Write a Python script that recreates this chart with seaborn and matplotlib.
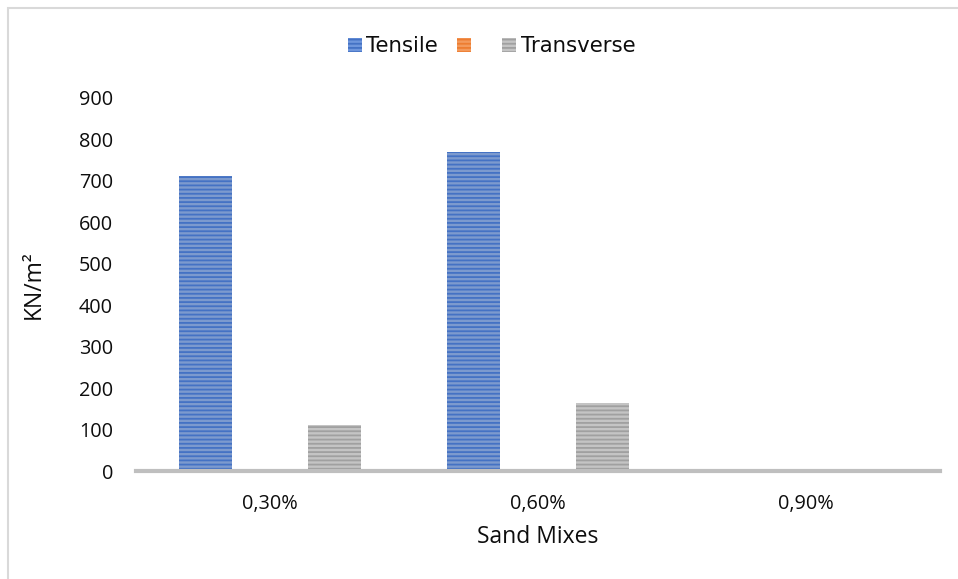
import numpy as np
import pandas as pd
import matplotlib
matplotlib.use("Agg")
import matplotlib.pyplot as plt
from matplotlib.patches import Patch, Rectangle
import seaborn as sns

# Strength values per sand mix (KN/m²)
categories = ["0,30%", "0,60%", "0,90%"]
series_names = ["Tensile", " ", "Transverse"]
tensile = [710, 770, np.nan]
unnamed = [np.nan, np.nan, np.nan]
transverse = [110, 165, np.nan]
y_ticks = [0, 100, 200, 300, 400, 500, 600, 700, 800, 900]

face_colors = ["#6e96dc", "#f39a5c", "#c4c4c4"]
line_colors = ["#4472c4", "#ed7d31", "#a0a0a0"]

df = pd.DataFrame({
    "mix": categories * 3,
    "series": [series_names[0]] * 3 + [series_names[1]] * 3 + [series_names[2]] * 3,
    "value": tensile + unnamed + transverse,
})

sns.set_theme(style="white")
plt.rcParams["font.family"] = ["Open Sans", "DejaVu Sans"]
plt.rcParams["hatch.linewidth"] = 1.3
plt.rcParams["text.color"] = "#0d0d0d"
plt.rcParams["axes.labelcolor"] = "#0d0d0d"

fig = plt.figure(figsize=(9.58, 5.79), dpi=100)
ax = fig.add_axes([0.142, 0.1865, 0.839, 0.645])

sns.barplot(data=df, x="mix", y="value", hue="series", hue_order=series_names,
            order=categories, palette=dict(zip(series_names, face_colors)),
            width=0.723, gap=0.18, errorbar=None, legend=False, ax=ax)

for container, ec in zip(ax.containers, line_colors):
    for bar in container:
        bar.set_hatch("----")
        bar.set_edgecolor(ec)
        bar.set_linewidth(0)

ax.set_ylim(0, 900)
ax.set_xlim(-0.5, 2.5)
ax.set_yticks(y_ticks)
ax.tick_params(axis="both", length=0, labelsize=14.3, colors="#0d0d0d")
ax.tick_params(axis="x", pad=16.5)
ax.tick_params(axis="y", pad=16.5)
for s in ["left", "right", "top"]:
    ax.spines[s].set_visible(False)
ax.spines["bottom"].set_color("#bfbfbf")
ax.spines["bottom"].set_linewidth(3)

ax.set_xlabel("Sand Mixes", fontsize=16.5, labelpad=8)
ax.set_ylabel("KN/m²", fontsize=16.5, labelpad=24)

handles = [Patch(facecolor=fc, edgecolor=ec, hatch="----", linewidth=0)
           for fc, ec in zip(face_colors, line_colors)]
fig.legend(handles, series_names, loc="center", bbox_to_anchor=(0.513, 0.92),
           ncol=3, frameon=False, prop={"family": "DejaVu Sans", "size": 15.3},
           handlelength=0.65, handleheight=0.65, handletextpad=0.23,
           columnspacing=0.9)

# Chart area border
fig.add_artist(Rectangle((7.5 / 958, -0.05), 1.1, 1.05 - 7.5 / 579,
                         transform=fig.transFigure, fill=False,
                         edgecolor="#d9d9d9", linewidth=1.5))

fig.savefig("out.png", dpi=100)
